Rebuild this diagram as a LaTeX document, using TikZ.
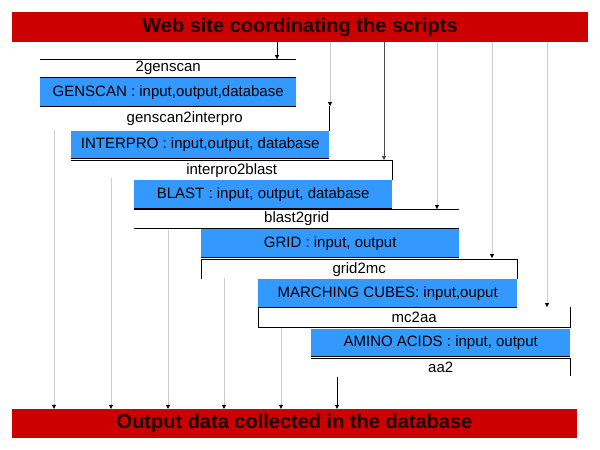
\documentclass[tikz,border=0pt]{standalone}
\usepackage{fontspec}
\setmainfont{Liberation Sans}
\usetikzlibrary{arrows.meta}
\definecolor{barred}{RGB}{204,0,0}
\definecolor{bartext}{RGB}{30,0,0}
\definecolor{progblue}{RGB}{51,153,255}
\definecolor{feedgray}{RGB}{205,205,205}
\begin{document}
\begin{tikzpicture}[x=1pt,y=-1pt,font=\fontsize{15}{18}\selectfont,
  bar/.style={fill=barred,text=bartext,inner sep=0pt,font=\fontsize{20}{23}\selectfont\bfseries},
  prog/.style={fill=progblue,anchor=north west,inner sep=0pt},
  script/.style={anchor=north west,inner sep=0pt},
  edge/.style={line width=1pt},
  feed/.style={feedgray,-{Triangle[color=black,length=4pt,width=4pt]}},
  feedblack/.style={black,-{Triangle[length=4pt,width=4pt]}}]
  \useasboundingbox (0,0) rectangle (600,450);
  % the two red bars
  \node[bar,minimum width=576,minimum height=30] (web) at (300,27) {Web site coordinating the scripts};
  \node[bar,minimum width=565,minimum height=29] (db) at (294.5,423.5) {Output data collected in the database};
  % scripts (white) and programs (blue)
  \node[script,minimum width=256,minimum height=18] (s1) at (40,59) {2genscan};
  \node[prog,minimum width=256,minimum height=28] (p1) at (40,78) {GENSCAN : input,output,database};
  \node[script,minimum width=289,minimum height=25] (s2) at (40,106) {genscan2interpro};
  \node[prog,minimum width=258,minimum height=27] (p2) at (71,131) {INTERPRO : input,output, database};
  \node[script,minimum width=321,minimum height=20] (s3) at (71,160) {interpro2blast};
  \node[prog,minimum width=258,minimum height=28] (p3) at (134,180) {BLAST : input, output, database};
  \node[script,minimum width=325,minimum height=19] (s4) at (134,209) {blast2grid};
  \node[prog,minimum width=258,minimum height=28] (p4) at (201,229) {GRID : input, output};
  \node[script,minimum width=316,minimum height=20] (s5) at (201,259) {grid2mc};
  \node[prog,minimum width=259,minimum height=28] (p5) at (258,279) {MARCHING CUBES: input,ouput};
  \node[script,minimum width=312,minimum height=20] (s6) at (258,307) {mc2aa};
  \node[prog,minimum width=259,minimum height=27] (p6) at (311,329) {AMINO ACIDS : input, output};
  \node[script,minimum width=259,minimum height=18] (s7) at (311,358) {aa2};
  % black borders
  \draw[edge] (s1.north west) -- (s1.north east);
  \draw[edge] (s1.south west) -- (s1.south east);
  \draw[edge] (p1.south west) -- (p1.south east);
  \draw[edge] (s2.north east) -- (s2.south east);
  \draw[edge] (p2.south west) -- (p2.south east);
  \draw[edge] (s3.north west) -- (s3.north east) -- (s3.south east);
  \draw[edge] (p3.south west) -- (p3.south east);
  \draw[edge] (s4.north west) -- (s4.north east);
  \draw[edge] (s4.south west) -- (s4.south east);
  \draw[edge] (p4.south west) -- (p4.south east);
  \draw[edge] (s5.south west) -- (s5.north west) -- (s5.north east) -- (s5.south east);
  \draw[edge] (p5.south west) -- (p5.south east);
  \draw[edge] (s6.north west) -- (s6.south west) -- (s6.south east) -- (s6.north east);
  \draw[edge] (p6.south west) -- (p6.south east);
  \draw[edge] (s7.north west) -- (s7.north east) -- (s7.south east);
  % calls from the web site
  \coordinate (in1) at (277,59);
  \coordinate (in2) at (330,106);
  \coordinate (in3) at (384,160);
  \coordinate (in4) at (437,209);
  \coordinate (in5) at (492,258);
  \coordinate (in6) at (547,307);
  \draw[feedblack] (web.south -| in1) -- (in1);
  \draw[feed] (web.south -| in2) -- (in2);
  \draw[feedblack,black!70] (web.south -| in3) -- (in3);
  \draw[feed] (web.south -| in4) -- (in4);
  \draw[feed] (web.south -| in5) -- (in5);
  \draw[feed] (web.south -| in6) -- (in6);
  % outputs to the database
  \coordinate (out1) at (54,130);
  \coordinate (out2) at (111,178);
  \coordinate (out3) at (168,230);
  \coordinate (out4) at (224,278);
  \coordinate (out5) at (281,328);
  \coordinate (out6) at (337,377);
  \draw[feed] (out1) -- (out1 |- db.north);
  \draw[feed] (out2) -- (out2 |- db.north);
  \draw[feed] (out3) -- (out3 |- db.north);
  \draw[feed] (out4) -- (out4 |- db.north);
  \draw[feed] (out5) -- (out5 |- db.north);
  \draw[feedblack] (out6) -- (out6 |- db.north);
\end{tikzpicture}
\end{document}
